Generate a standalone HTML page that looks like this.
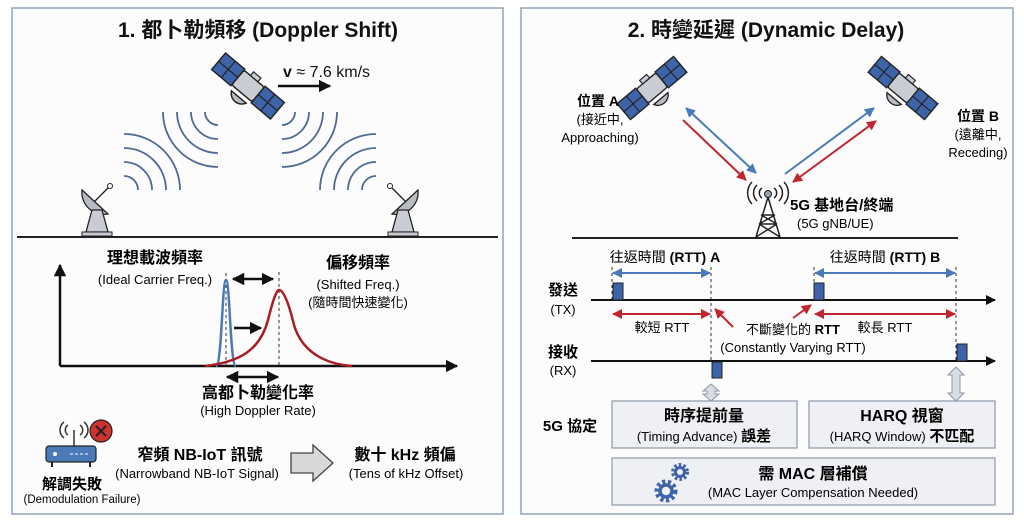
<!DOCTYPE html>
<html><head><meta charset="utf-8"><style>
html,body{margin:0;padding:0;background:#fff;}
svg{display:block;font-family:"Liberation Sans","Noto Sans CJK TC",sans-serif;}
.b{font-weight:bold;}
</style></head><body>
<svg width="1024" height="521" viewBox="0 0 1024 521" xmlns="http://www.w3.org/2000/svg">
<defs>
<marker id="ak" viewBox="0 0 10 10" refX="9" refY="5" markerWidth="5" markerHeight="5" orient="auto-start-reverse"><path d="M0,0L10,5L0,10z" fill="#111"/></marker>
<marker id="ar" viewBox="0 0 10 10" refX="9" refY="5" markerWidth="5" markerHeight="5" orient="auto-start-reverse"><path d="M0,0L10,5L0,10z" fill="#c0262d"/></marker>
<marker id="ab" viewBox="0 0 10 10" refX="9" refY="5" markerWidth="5" markerHeight="5" orient="auto-start-reverse"><path d="M0,0L10,5L0,10z" fill="#4a7ab8"/></marker>
<g id="sat">
<rect x="-32" y="-9" width="21" height="18" fill="#3d64a8" stroke="#222" stroke-width="1.2"/>
<line x1="-21.5" y1="-9" x2="-21.5" y2="9" stroke="#222"/><line x1="-32" y1="0" x2="-11" y2="0" stroke="#222"/>
<rect x="11" y="-9" width="21" height="18" fill="#3d64a8" stroke="#222" stroke-width="1.2"/>
<line x1="21.5" y1="-9" x2="21.5" y2="9" stroke="#222"/><line x1="11" y1="0" x2="32" y2="0" stroke="#222"/>
<rect x="-11" y="-8" width="22" height="16" rx="2" fill="#c9cdd3" stroke="#222" stroke-width="1.2"/>
<rect x="-4" y="-12" width="8" height="4" fill="#c9cdd3" stroke="#222"/>
<path d="M-8,12 a9,9 0 0 0 16,0z" fill="#b8bcc2" stroke="#222" stroke-width="1.2"/>
</g>
<g id="dish">
<path d="M-16,-12 a22,22 0 0 0 26,24z" fill="#b8bcc2" stroke="#222" stroke-width="1.3"/>
<line x1="-4" y1="0" x2="12" y2="-16" stroke="#222" stroke-width="1.3"/>
<circle cx="12" cy="-16" r="2.5" fill="#fff" stroke="#222"/>
<path d="M-6,8 L-12,30 L10,30 L4,8z" fill="#c9cdd3" stroke="#222" stroke-width="1.3"/>
<rect x="-16" y="30" width="30" height="4" fill="#c9cdd3" stroke="#222"/>
</g>
</defs>

<!-- panels -->
<rect x="12" y="8" width="491" height="506" fill="#fcfcfd" stroke="#8fa3bb" stroke-width="1.5"/>
<rect x="521" y="8" width="492" height="506" fill="#fcfcfd" stroke="#8fa3bb" stroke-width="1.5"/>

<!-- LEFT -->
<text x="258" y="37" text-anchor="middle" font-size="21" class="b" fill="#111">1. 都卜勒頻移 (Doppler Shift)</text>
<use href="#sat" transform="translate(248,86) rotate(40) scale(1.2)"/>
<text x="283" y="77" font-size="16" fill="#111"><tspan class="b">v</tspan> ≈ 7.6 km/s</text>
<line x1="278" y1="86" x2="330" y2="86" stroke="#111" stroke-width="2.5" marker-end="url(#ak)"/>
<g fill="none" stroke="#4f6a95" stroke-width="1.8">
<path d="M205,112 A13,13 0 0 0 218,125"/><path d="M191,112 A27,27 0 0 0 218,139"/><path d="M177,112 A41,41 0 0 0 218,153"/><path d="M163,112 A55,55 0 0 0 218,167"/>
<path d="M295,112 A13,13 0 0 1 282,125"/><path d="M309,112 A27,27 0 0 1 282,139"/><path d="M323,112 A41,41 0 0 1 282,153"/><path d="M337,112 A55,55 0 0 1 282,167"/>
<path d="M124,176 A14,14 0 0 1 138,190"/><path d="M124,162 A28,28 0 0 1 152,190"/><path d="M124,148 A42,42 0 0 1 166,190"/><path d="M124,134 A56,56 0 0 1 180,190"/>
<path d="M376,176 A14,14 0 0 0 362,190"/><path d="M376,162 A28,28 0 0 0 348,190"/><path d="M376,148 A42,42 0 0 0 334,190"/><path d="M376,134 A56,56 0 0 0 320,190"/>
</g>
<use href="#dish" transform="translate(98,202)"/>
<use href="#dish" transform="translate(402,202) scale(-1,1)"/>
<line x1="17" y1="237" x2="498" y2="237" stroke="#222" stroke-width="2"/>

<!-- graph -->
<line x1="60" y1="366" x2="60" y2="265" stroke="#111" stroke-width="2.5" marker-end="url(#ak)"/>
<line x1="60" y1="366" x2="457" y2="366" stroke="#111" stroke-width="2.5" marker-end="url(#ak)"/>
<line x1="226" y1="273" x2="226" y2="366" stroke="#333" stroke-dasharray="3,3"/>
<line x1="279" y1="272" x2="279" y2="366" stroke="#333" stroke-dasharray="3,3"/>
<path d="M216,366 C222,366 222,280 226,280 C230,280 230,366 236,366" fill="none" stroke="#4a7ab8" stroke-width="2.5"/>
<path d="M205,366 C240,362 260,350 268,320 C274,296 277,290 279,290 C283,290 288,300 294,325 C302,352 325,364 352,366" fill="none" stroke="#a81e24" stroke-width="2.5"/>
<line x1="233" y1="279" x2="273" y2="279" stroke="#111" stroke-width="2.5" marker-start="url(#ak)" marker-end="url(#ak)"/>
<line x1="234" y1="328" x2="261" y2="328" stroke="#111" stroke-width="2.5" marker-end="url(#ak)"/>
<line x1="227" y1="377" x2="278" y2="377" stroke="#111" stroke-width="2.5" marker-start="url(#ak)" marker-end="url(#ak)"/>
<text x="155" y="263" text-anchor="middle" font-size="16" class="b">理想載波頻率</text>
<text x="155" y="284" text-anchor="middle" font-size="13">(Ideal Carrier Freq.)</text>
<text x="358" y="268" text-anchor="middle" font-size="16" class="b">偏移頻率</text>
<text x="358" y="289" text-anchor="middle" font-size="13">(Shifted Freq.)</text>
<text x="358" y="307" text-anchor="middle" font-size="13">(隨時間快速變化)</text>
<text x="258" y="398" text-anchor="middle" font-size="16" class="b">高都卜勒變化率</text>
<text x="258" y="415" text-anchor="middle" font-size="13">(High Doppler Rate)</text>

<!-- bottom left -->
<g fill="none" stroke="#333" stroke-width="1.5">
<path d="M68,425 a6,6 0 0 0 0,10"/><path d="M64,422 a10,10 0 0 0 0,16"/>
<path d="M80,425 a6,6 0 0 1 0,10"/><path d="M84,422 a10,10 0 0 1 0,16"/>
<line x1="74" y1="430" x2="74" y2="446"/>
</g>
<rect x="46" y="446" width="50" height="16" rx="3" fill="#4a7ab8" stroke="#222" stroke-width="1.2"/>
<circle cx="55" cy="454" r="2" fill="#fff"/><line x1="70" y1="454" x2="90" y2="454" stroke="#fff" stroke-dasharray="3,2"/>
<line x1="52" y1="462" x2="52" y2="467" stroke="#222" stroke-width="2"/><line x1="90" y1="462" x2="90" y2="467" stroke="#222" stroke-width="2"/>
<circle cx="101" cy="431" r="11" fill="#d0332f" stroke="#222" stroke-width="1.2"/>
<path d="M96,426 L106,436 M106,426 L96,436" stroke="#222" stroke-width="2"/>
<text x="72" y="489" text-anchor="middle" font-size="15" class="b">解調失敗</text>
<text x="82" y="503" text-anchor="middle" font-size="11.5">(Demodulation Failure)</text>
<text x="200" y="460" text-anchor="middle" font-size="16" class="b">窄頻 NB-IoT 訊號</text>
<text x="197" y="478" text-anchor="middle" font-size="13">(Narrowband NB-IoT Signal)</text>
<path d="M291,453 L313,453 L313,445 L333,463 L313,481 L313,473 L291,473z" fill="#d8d8d8" stroke="#444" stroke-width="1.3"/>
<text x="405" y="460" text-anchor="middle" font-size="16" class="b">數十 kHz 頻偏</text>
<text x="406" y="478" text-anchor="middle" font-size="13">(Tens of kHz Offset)</text>

<!-- RIGHT -->
<text x="766" y="37" text-anchor="middle" font-size="21" class="b" fill="#111">2. 時變延遲 (Dynamic Delay)</text>
<use href="#sat" transform="translate(652,88) rotate(-40) scale(1.15)"/>
<use href="#sat" transform="translate(903,88) rotate(40) scale(1.15)"/>
<text x="598" y="106" text-anchor="middle" font-size="14"><tspan class="b">位置 A</tspan></text>
<text x="600" y="124" text-anchor="middle" font-size="13">(接近中,</text>
<text x="600" y="142" text-anchor="middle" font-size="13">Approaching)</text>
<text x="978" y="121" text-anchor="middle" font-size="14"><tspan class="b">位置 B</tspan></text>
<text x="978" y="139" text-anchor="middle" font-size="13">(遠離中,</text>
<text x="978" y="157" text-anchor="middle" font-size="13">Receding)</text>
<line x1="686" y1="108" x2="756" y2="173" stroke="#4a7ab8" stroke-width="2" marker-start="url(#ab)" marker-end="url(#ab)"/>
<line x1="683" y1="120" x2="746" y2="180" stroke="#c0262d" stroke-width="2" marker-end="url(#ar)"/>
<line x1="785" y1="174" x2="874" y2="108" stroke="#4a7ab8" stroke-width="2" marker-end="url(#ab)"/>
<line x1="793" y1="182" x2="876" y2="121" stroke="#c0262d" stroke-width="2" marker-start="url(#ar)" marker-end="url(#ar)"/>
<!-- tower -->
<g fill="none" stroke="#222" stroke-width="1.5">
<path d="M762,188 a6,6 0 0 0 0,10"/><path d="M757,185 a11,11 0 0 0 0,16"/><path d="M752,182 a16,16 0 0 0 0,22"/>
<path d="M774,188 a6,6 0 0 1 0,10"/><path d="M779,185 a11,11 0 0 1 0,16"/><path d="M784,182 a16,16 0 0 1 0,22"/>
<path d="M768,197 L756,237 M768,197 L780,237 M761,215 L775,215 M759,224 L777,224 M761,215 L777,224 M775,215 L759,224 M759,224 L780,237 M777,224 L756,237"/>
</g>
<circle cx="768" cy="194" r="3.5" fill="#8fa0b5" stroke="#222"/>
<text x="790" y="210" font-size="15" class="b">5G 基地台/終端</text>
<text x="797" y="228" font-size="13">(5G gNB/UE)</text>
<line x1="572" y1="238" x2="958" y2="238" stroke="#222" stroke-width="2"/>

<!-- timing -->
<text x="665" y="262" text-anchor="middle" font-size="14"><tspan>往返時間</tspan> <tspan class="b">(RTT) A</tspan></text>
<text x="885" y="262" text-anchor="middle" font-size="14"><tspan>往返時間</tspan> <tspan class="b">(RTT) B</tspan></text>
<line x1="612" y1="267" x2="612" y2="300" stroke="#333" stroke-dasharray="3,3"/>
<line x1="711" y1="267" x2="711" y2="362" stroke="#333" stroke-dasharray="3,3"/>
<line x1="814" y1="267" x2="814" y2="300" stroke="#333" stroke-dasharray="3,3"/>
<line x1="956" y1="267" x2="956" y2="362" stroke="#333" stroke-dasharray="3,3"/>
<line x1="613" y1="273" x2="710" y2="273" stroke="#4a7ab8" stroke-width="2" marker-start="url(#ab)" marker-end="url(#ab)"/>
<line x1="815" y1="273" x2="955" y2="273" stroke="#4a7ab8" stroke-width="2" marker-start="url(#ab)" marker-end="url(#ab)"/>
<line x1="591" y1="300" x2="995" y2="300" stroke="#111" stroke-width="2" marker-end="url(#ak)"/>
<line x1="591" y1="361" x2="995" y2="361" stroke="#111" stroke-width="2" marker-end="url(#ak)"/>
<rect x="613" y="283" width="10" height="17" fill="#3d64a8" stroke="#222"/>
<rect x="814" y="283" width="10" height="17" fill="#3d64a8" stroke="#222"/>
<rect x="712" y="362" width="10" height="16" fill="#3d64a8" stroke="#222"/>
<rect x="957" y="344" width="10" height="17" fill="#3d64a8" stroke="#222"/>
<line x1="613" y1="314" x2="710" y2="314" stroke="#c0262d" stroke-width="2" marker-start="url(#ar)" marker-end="url(#ar)"/>
<line x1="815" y1="314" x2="955" y2="314" stroke="#c0262d" stroke-width="2" marker-start="url(#ar)" marker-end="url(#ar)"/>
<line x1="733" y1="327" x2="715" y2="309" stroke="#c0262d" stroke-width="2" marker-end="url(#ar)"/>
<line x1="793" y1="318" x2="811" y2="305" stroke="#c0262d" stroke-width="2" marker-end="url(#ar)"/>
<text x="662" y="332" text-anchor="middle" font-size="13">較短 RTT</text>
<text x="885" y="332" text-anchor="middle" font-size="13">較長 RTT</text>
<text x="793" y="334" text-anchor="middle" font-size="13">不斷變化的 <tspan class="b">RTT</tspan></text>
<text x="793" y="352" text-anchor="middle" font-size="13">(Constantly Varying RTT)</text>
<text x="563" y="295" text-anchor="middle" font-size="15" class="b">發送</text>
<text x="563" y="314" text-anchor="middle" font-size="13">(TX)</text>
<text x="563" y="357" text-anchor="middle" font-size="15" class="b">接收</text>
<text x="563" y="375" text-anchor="middle" font-size="13">(RX)</text>

<!-- gray double arrows -->
<path d="M711,384 L719,391 L715,391 L715,394 L719,394 L711,401 L703,394 L707,394 L707,391 L703,391z" fill="#d8dde3" stroke="#8a98a8"/>
<path d="M956,367 L964,375 L960,375 L960,393 L964,393 L956,401 L948,393 L952,393 L952,375 L948,375z" fill="#d8dde3" stroke="#8a98a8"/>

<!-- boxes -->
<text x="570" y="431" text-anchor="middle" font-size="15" class="b">5G 協定</text>
<rect x="612" y="401" width="185" height="47" fill="#eef0f3" stroke="#8a98a8" stroke-width="1.2"/>
<rect x="809" y="401" width="186" height="47" fill="#eef0f3" stroke="#8a98a8" stroke-width="1.2"/>
<rect x="612" y="458" width="383" height="47" fill="#eef0f3" stroke="#8a98a8" stroke-width="1.2"/>
<text x="704" y="421" text-anchor="middle" font-size="16" class="b">時序提前量</text>
<text x="704" y="441" text-anchor="middle" font-size="13">(Timing Advance) <tspan class="b" font-size="15">誤差</tspan></text>
<text x="902" y="421" text-anchor="middle" font-size="16" class="b">HARQ 視窗</text>
<text x="902" y="441" text-anchor="middle" font-size="13">(HARQ Window) <tspan class="b" font-size="15">不匹配</tspan></text>
<text x="813" y="479" text-anchor="middle" font-size="16" class="b">需 MAC 層補償</text>
<text x="813" y="497" text-anchor="middle" font-size="13">(MAC Layer Compensation Needed)</text>
<!-- gears -->
<circle cx="680" cy="472" r="7" fill="none" stroke="#3d64a8" stroke-width="4" stroke-dasharray="2.5,2"/>
<circle cx="680" cy="472" r="4.5" fill="none" stroke="#3d64a8" stroke-width="3"/>
<circle cx="666" cy="491" r="9" fill="none" stroke="#3d64a8" stroke-width="5" stroke-dasharray="3,2.5"/>
<circle cx="666" cy="491" r="6" fill="none" stroke="#3d64a8" stroke-width="3.5"/>
</svg>
</body></html>
